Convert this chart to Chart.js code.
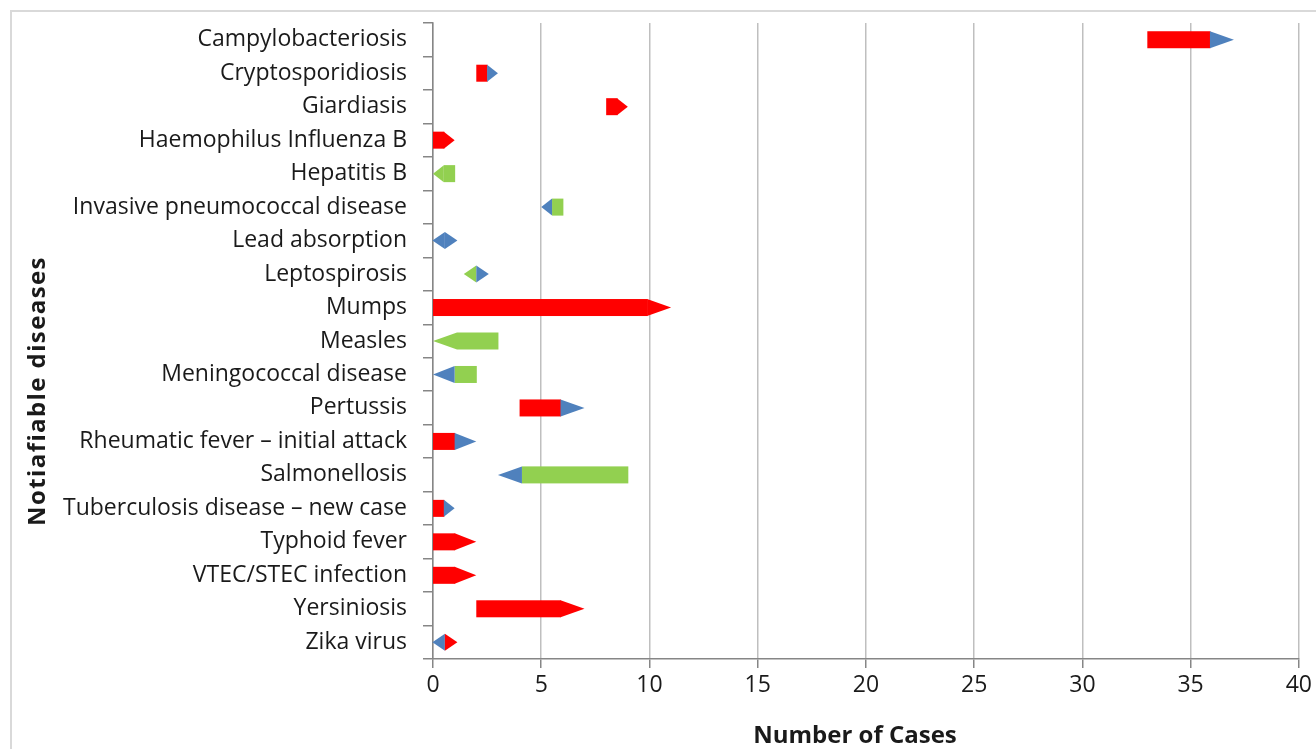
<!DOCTYPE html>
<html>
<head>
<meta charset="utf-8">
<script src="https://cdn.jsdelivr.net/npm/chart.js@4.4.0/dist/chart.umd.min.js"></script>
<style>
    html, body { margin: 0; background: #fff; }
    #frame { position: absolute; left: 10px; top: 10px; width: 1330px; height: 780px; border: 2px solid #d9d9d9; }
    #wrap { position: absolute; left: 0; top: 0; width: 1316px; height: 749px; }
</style>
</head>
<body>
<div id="frame"></div>
<div id="wrap"><canvas id="myChart" width="1316" height="749"></canvas></div>
<script>
// cases: arrow tail -> arrow tip (equal = diamond)
const diseases = [
    'Campylobacteriosis', 'Cryptosporidiosis', 'Giardiasis', 'Haemophilus Influenza B',
    'Hepatitis B', 'Invasive pneumococcal disease', 'Lead absorption', 'Leptospirosis',
    'Mumps', 'Measles', 'Meningococcal disease', 'Pertussis',
    'Rheumatic fever \u2013 initial attack', 'Salmonellosis', 'Tuberculosis disease \u2013 new case',
    'Typhoid fever', 'VTEC/STEC infection', 'Yersiniosis', 'Zika virus'
];
const casesFrom = [33, 2, 8, 0, 1, 6, 0.55, 2, 0, 3, 2, 4, 0, 9, 0, 0, 0, 2, 0.55];
const casesTo   = [37, 3, 9, 1, 0, 5, 0.55, 2, 11, 0, 0, 7, 2, 3, 1, 2, 2, 7, 0.55];
const bodyShade = ['red', 'red', 'red', 'red', 'green', 'green', 'blue', 'green', 'red', 'green',
    'green', 'red', 'red', 'green', 'red', 'red', 'red', 'red', 'blue'];
const headShade = ['blue', 'blue', 'red', 'red', 'green', 'blue', 'blue', 'blue', 'red', 'green',
    'blue', 'blue', 'blue', 'blue', 'blue', 'red', 'red', 'red', 'red'];
const xTicks = [0, 5, 10, 15, 20, 25, 30, 35, 40];

const shades = { red: '#ff0000', green: '#92d050', blue: '#4f81bd' };
const textColor = '#1a1a1a';
const font = 'Open Sans';

// draws every bar as an arrow (body + head) using the chart scales
const arrowPlugin = {
    id: 'arrows',
    afterDatasetsDraw(chart) {
        const ctx = chart.ctx;
        const xs = chart.scales.x, ys = chart.scales.y;
        const h = 17;
        ctx.save();
        diseases.forEach((d, i) => {
            const x0 = xs.getPixelForValue(casesFrom[i]);
            const x1 = xs.getPixelForValue(casesTo[i]);
            const yc = ys.getPixelForValue(i);
            const top = yc - h / 2, bot = yc + h / 2;
            if (casesFrom[i] === casesTo[i]) {
                const w = 12.5;
                ctx.fillStyle = shades[bodyShade[i]];
                ctx.beginPath();
                ctx.moveTo(x0, top); ctx.lineTo(x0 - w, yc); ctx.lineTo(x0, bot);
                ctx.closePath(); ctx.fill();
                ctx.fillStyle = shades[headShade[i]];
                ctx.beginPath();
                ctx.moveTo(x0, top); ctx.lineTo(x0 + w, yc); ctx.lineTo(x0, bot);
                ctx.closePath(); ctx.fill();
                return;
            }
            const dir = x1 > x0 ? 1 : -1;
            const head = Math.min(24, Math.abs(x1 - x0) / 2);
            const xb = x1 - dir * head;
            ctx.fillStyle = shades[bodyShade[i]];
            ctx.fillRect(Math.min(x0, xb), top, Math.abs(xb - x0) + 0.5, h);
            ctx.fillStyle = shades[headShade[i]];
            ctx.beginPath();
            ctx.moveTo(xb, top); ctx.lineTo(x1, yc); ctx.lineTo(xb, bot);
            ctx.closePath(); ctx.fill();
        });
        ctx.restore();
    }
};

// axis titles, spaced like the original
const titlePlugin = {
    id: 'axisTitles',
    afterDraw(chart) {
        const ctx = chart.ctx;
        ctx.save();
        ctx.fillStyle = textColor;
        ctx.font = 'bold 24px "' + font + '"';
        ctx.textAlign = 'center';
        ctx.textBaseline = 'middle';
        ctx.fillText('Number of Cases', 855, 736);
        ctx.letterSpacing = '1.4px';
        ctx.translate(38, 391);
        ctx.rotate(-Math.PI / 2);
        ctx.fillText('Notiafiable diseases', 0, 0);
        ctx.restore();
    }
};

var ctx = document.getElementById('myChart');
var myChart = new Chart(ctx, {
    type: 'bar',
    data: {
        labels: diseases,
        datasets: [{
            label: 'Cases',
            data: diseases.map((d, i) => [casesFrom[i], casesTo[i]]),
            backgroundColor: 'rgba(0,0,0,0)',
            borderWidth: 0
        }]
    },
    options: {
        indexAxis: 'y',
        responsive: false,
        animation: false,
        devicePixelRatio: 1,
        layout: { padding: { top: 23, right: 16, left: 12, bottom: 0 } },
        plugins: { legend: { display: false }, tooltip: { enabled: false } },
        scales: {
            x: {
                min: 0,
                max: 40,
                afterBuildTicks: (axis) => { axis.ticks = xTicks.map(v => ({ value: v })); },
                afterFit: (axis) => { axis.height = 90; },
                grid: { color: '#bfbfbf', lineWidth: 1.5, tickLength: 9, tickColor: '#868686' },
                border: { color: '#868686', width: 1.5 },
                ticks: { color: textColor, font: { family: font, size: 23 }, padding: 4 }
            },
            y: {
                afterFit: (axis) => {
                    axis.width = 433 - 12;
                    axis.paddingTop = 0;
                    axis.paddingBottom = 0;
                },
                grid: { drawOnChartArea: false, tickLength: 10, tickColor: '#868686', lineWidth: 1.5 },
                border: { color: '#868686', width: 1.5 },
                ticks: { color: textColor, font: { family: font, size: 23 }, padding: 16 }
            }
        }
    },
    plugins: [arrowPlugin, titlePlugin]
});
</script>
</body>
</html>
